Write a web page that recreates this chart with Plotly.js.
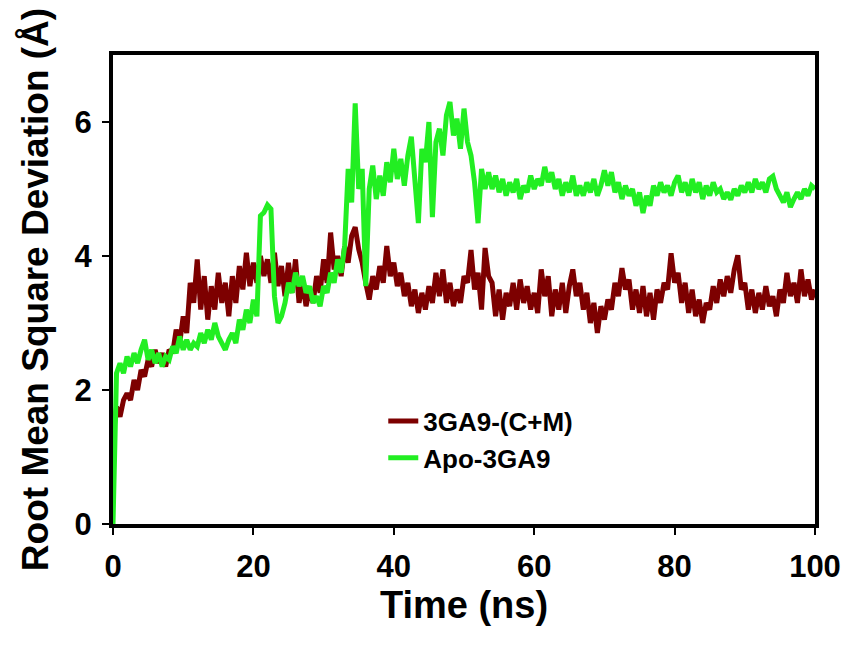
<!DOCTYPE html>
<html>
<head>
<meta charset="utf-8">
<script src="https://cdn.plot.ly/plotly-3.0.1.min.js"></script>
<style>html,body{margin:0;padding:0;background:#fff;}#chart{width:851px;height:650px;}</style>
</head>
<body>
<div id="chart"></div>
<script>
// Time (ns), 0.5 ns sampling
const timeNs = [
  0,0.5,1,1.5,2,2.5,3,3.5,4,4.5,
  5,5.5,6,6.5,7,7.5,8,8.5,9,9.5,
  10,10.5,11,11.5,12,12.5,13,13.5,14,14.5,
  15,15.5,16,16.5,17,17.5,18,18.5,19,19.5,
  20,20.5,21,21.5,22,22.5,23,23.5,24,24.5,
  25,25.5,26,26.5,27,27.5,28,28.5,29,29.5,
  30,30.5,31,31.5,32,32.5,33,33.5,34,34.5,
  35,35.5,36,36.5,37,37.5,38,38.5,39,39.5,
  40,40.5,41,41.5,42,42.5,43,43.5,44,44.5,
  45,45.5,46,46.5,47,47.5,48,48.5,49,49.5,
  50,50.5,51,51.5,52,52.5,53,53.5,54,54.5,
  55,55.5,56,56.5,57,57.5,58,58.5,59,59.5,
  60,60.5,61,61.5,62,62.5,63,63.5,64,64.5,
  65,65.5,66,66.5,67,67.5,68,68.5,69,69.5,
  70,70.5,71,71.5,72,72.5,73,73.5,74,74.5,
  75,75.5,76,76.5,77,77.5,78,78.5,79,79.5,
  80,80.5,81,81.5,82,82.5,83,83.5,84,84.5,
  85,85.5,86,86.5,87,87.5,88,88.5,89,89.5,
  90,90.5,91,91.5,92,92.5,93,93.5,94,94.5,
  95,95.5,96,96.5,97,97.5,98,98.5,99,99.5,
  100
];

// RMSD (Å) of 3GA9-(C+M)
const rmsdComplex = [
  1.3,1.75,1.6,1.85,1.95,1.85,2.15,2.0,2.3,2.2,
  2.45,2.35,2.6,2.4,2.55,2.35,2.6,2.55,2.9,2.7,
  3.1,2.85,3.6,3.3,3.95,3.2,3.7,3.05,3.55,3.2,
  3.75,3.3,3.6,3.1,3.7,3.3,3.85,3.5,4.05,3.55,
  3.9,3.6,4.0,3.7,3.95,3.6,4.05,3.55,3.85,3.4,
  3.9,3.45,3.95,3.3,3.6,3.25,3.5,3.3,3.7,3.45,
  3.95,3.6,4.35,3.8,4.0,3.7,4.15,3.9,4.3,4.43,
  4.1,3.9,3.6,3.35,3.7,3.5,3.85,3.6,4.15,3.7,
  3.9,3.55,3.75,3.4,3.6,3.25,3.5,3.15,3.45,3.2,
  3.55,3.3,3.75,3.4,3.8,3.3,3.6,3.25,3.5,3.3,
  3.7,3.6,4.09,3.5,3.75,3.2,4.12,3.7,3.6,3.1,
  3.5,3.05,3.45,3.25,3.6,3.2,3.65,3.3,3.55,3.2,
  3.45,3.15,3.8,3.4,3.7,3.1,3.5,3.2,3.6,3.15,
  3.55,3.8,3.4,3.6,3.2,3.45,3.0,3.3,2.85,3.25,
  3.05,3.35,3.2,3.6,3.4,3.82,3.5,3.65,3.2,3.5,
  3.15,3.55,3.1,3.45,3.05,3.5,3.3,3.6,3.5,4.04,
  3.6,3.75,3.3,3.6,3.15,3.5,3.1,3.35,3.0,3.3,
  3.2,3.55,3.3,3.65,3.4,3.7,3.45,3.8,4.01,3.5,
  3.6,3.2,3.5,3.15,3.45,3.2,3.55,3.25,3.4,3.1,
  3.5,3.3,3.75,3.4,3.6,3.3,3.8,3.4,3.65,3.35,
  3.5
];

// RMSD (Å) of Apo-3GA9
const rmsdApo = [
  0,2.25,2.4,2.25,2.5,2.35,2.55,2.4,2.6,2.75,
  2.45,2.6,2.4,2.55,2.35,2.5,2.45,2.65,2.55,2.8,
  2.6,2.75,2.6,2.7,2.65,2.85,2.7,2.9,2.75,3.0,
  2.8,2.7,2.6,2.75,2.85,2.7,3.05,2.9,3.2,3.0,
  3.35,3.1,4.6,4.65,4.76,4.7,3.4,3.0,3.1,3.3,
  3.6,3.45,3.75,3.55,3.7,3.45,3.55,3.3,3.4,3.25,
  3.55,3.45,3.75,3.6,3.95,3.75,4.15,5.3,4.8,6.28,
  5.0,5.3,3.55,5.0,5.35,4.85,5.2,4.9,5.4,5.1,
  5.6,5.15,5.45,5.05,5.5,5.78,5.2,4.49,5.6,5.4,
  6.0,4.58,5.7,5.9,5.5,6.1,6.3,5.8,6.05,5.6,
  6.2,5.7,5.5,5.1,4.49,5.3,5.0,5.25,5.0,5.2,
  4.95,5.15,4.9,5.1,4.95,5.15,4.85,5.05,4.95,5.2,
  5.0,5.15,5.05,5.33,5.1,5.25,5.0,5.15,4.9,5.1,
  4.95,5.2,4.9,5.05,4.9,5.1,4.95,5.15,4.9,5.05,
  5.28,5.05,5.25,4.95,5.1,4.85,5.05,4.9,5.0,4.75,
  4.95,4.64,4.9,4.75,5.05,4.9,5.1,4.95,5.05,4.9,
  5.1,5.2,4.95,5.1,4.9,5.15,4.95,5.1,4.85,5.05,
  4.9,5.1,4.95,5.0,4.85,4.95,4.84,5.0,4.9,5.05,
  4.95,5.1,4.95,5.15,5.0,5.1,4.95,5.15,5.19,5.0,
  4.9,4.8,4.95,4.73,4.85,4.95,4.85,5.0,4.9,5.05,
  5.0
];

const seriesNames = ['3GA9-(C+M)', 'Apo-3GA9'];
const xTickVals = [0, 20, 40, 60, 80, 100];
const yTickVals = [0, 2, 4, 6];

const FONT = '"Liberation Sans", Arial, sans-serif';

const traces = [
  {x: timeNs, y: rmsdComplex, name: seriesNames[0], type: 'scatter', mode: 'lines',
   line: {color: '#7d0000', width: 5}},
  {x: timeNs, y: rmsdApo, name: seriesNames[1], type: 'scatter', mode: 'lines',
   line: {color: '#22ee22', width: 5}}
];

const layout = {
  width: 851, height: 650,
  margin: {l: 113, r: 36, t: 55, b: 126},
  paper_bgcolor: '#ffffff', plot_bgcolor: '#ffffff',
  font: {family: FONT, color: '#000', weight: 'bold'},
  showlegend: true,
  legend: {x: 0.385, y: 0.18, xanchor: 'left', yanchor: 'middle',
           bgcolor: 'rgba(0,0,0,0)', font: {family: FONT, size: 26, weight: 'bold', color: '#000'},
           tracegroupgap: 0},
  xaxis: {
    range: [0, 100], tickvals: xTickVals, ticktext: xTickVals.map(String),
    showgrid: false, zeroline: false,
    showline: true, linecolor: '#000', linewidth: 4, mirror: true,
    ticks: 'outside', ticklen: 7, tickwidth: 2, tickcolor: '#000',
    ticklabelstandoff: 5,
    tickfont: {family: FONT, size: 31, weight: 'bold', color: '#000'},
    title: {text: 'Time (ns)', standoff: 1, font: {family: FONT, size: 38, weight: 'bold', color: '#000'}}
  },
  yaxis: {
    range: [0, 7], tickvals: yTickVals, ticktext: yTickVals.map(String),
    showgrid: false, zeroline: false,
    showline: true, linecolor: '#000', linewidth: 4, mirror: true,
    ticks: 'outside', ticklen: 7, tickwidth: 2, tickcolor: '#000',
    ticklabelstandoff: 4,
    tickfont: {family: FONT, size: 31, weight: 'bold', color: '#000'},
    title: {text: 'Root Mean Square Deviation (Å)', standoff: 16, font: {family: FONT, size: 37, weight: 'bold', color: '#000'}}
  }
};

Plotly.newPlot('chart', traces, layout, {displayModeBar: false, staticPlot: true});
</script>
</body>
</html>
